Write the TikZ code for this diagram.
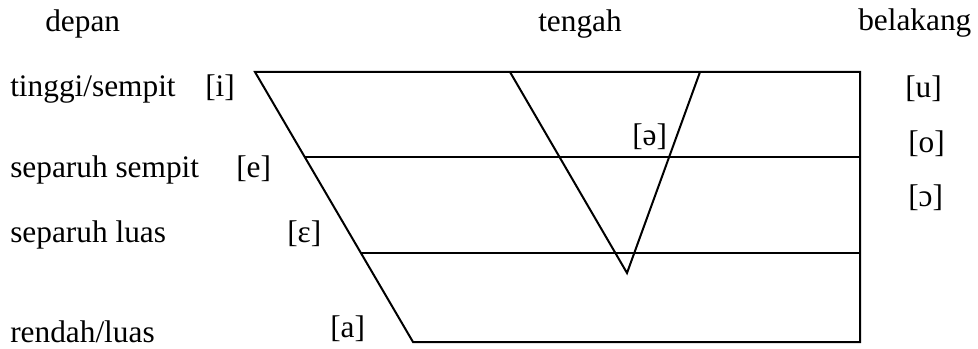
\documentclass[tikz,border=0pt]{standalone}
\usepackage{fontspec}
\setmainfont{Liberation Serif}
\begin{document}
\begin{tikzpicture}[x=0.75pt,y=-0.75pt,
  lbl/.style={anchor=base west,inner sep=0pt,font=\fontsize{23.5}{28}\selectfont},
  edge/.style={line width=1.5pt,line join=miter}]
\useasboundingbox (0,0) rectangle (978,349);
% corners
\coordinate (TL) at (255,72);
\coordinate (TR) at (860,72);
\coordinate (BR) at (860,342);
\coordinate (BL) at (413,342);
\coordinate (M1L) at (305,157);
\coordinate (M1R) at (860,157);
\coordinate (M2L) at (361,253);
\coordinate (M2R) at (860,253);
\coordinate (T1) at (510,72);
\coordinate (T2) at (700,72);
\coordinate (TA) at (627,273);
\draw[edge] (TL) -- (TR) -- (BR) -- (BL) -- cycle;
\draw[edge] (M1L) -- (M1R);
\draw[edge] (M2L) -- (M2R);
\draw[edge] (T1) -- (TA) -- (T2);
% labels
\node[lbl] (depan) at (45,32) {depan};
\node[lbl] (tengah) at (538,32) {tengah};
\node[lbl] (belakang) at (858,31) {belakang};
\node[lbl] (tinggi) at (10,97) {tinggi/sempit};
\node[lbl] (i) at (205,97) {[i]};
\node[lbl] (sepsempit) at (10,178) {separuh sempit};
\node[lbl] (e) at (236,178) {[e]};
\node[lbl] (sepluas) at (10,243) {separuh luas};
\node[lbl] (eps) at (287,243) {[ɛ]};
\node[lbl] (rendah) at (10,342) {rendah/luas};
\node[lbl] (a) at (330,337) {[a]};
\node[lbl] (schwa) at (632,146) {[ə]};
\node[lbl] (u) at (905,98) {[u]};
\node[lbl] (o) at (908,153) {[o]};
\node[lbl] (oo) at (908,206) {[ɔ]};
\end{tikzpicture}
\end{document}
